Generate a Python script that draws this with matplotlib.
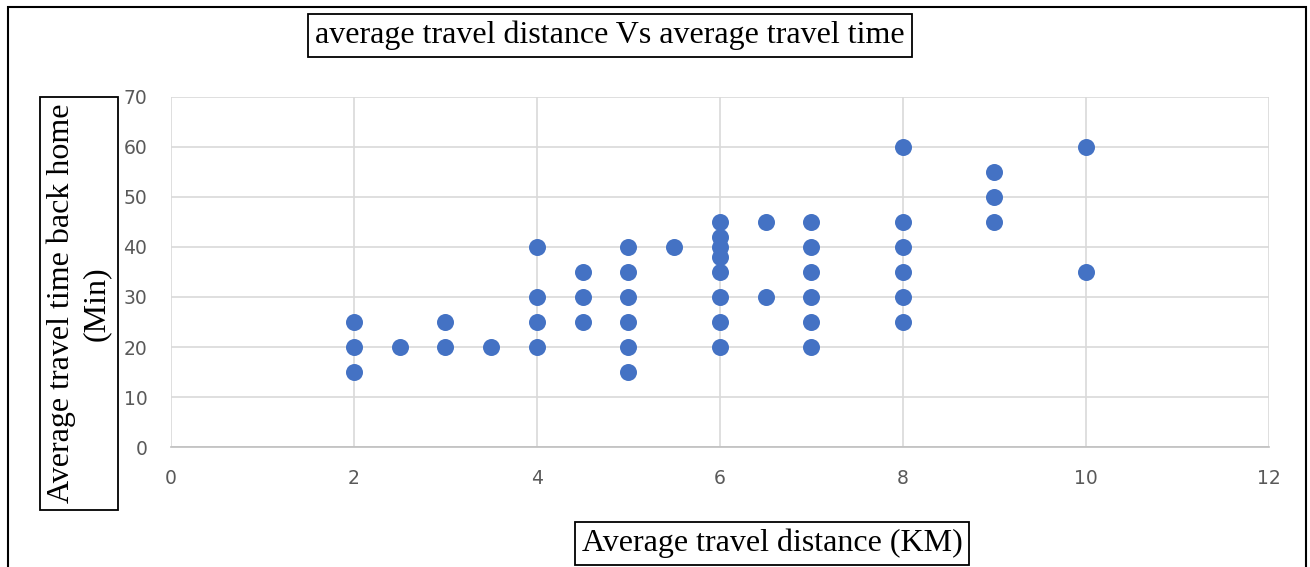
import numpy as np
import matplotlib
matplotlib.use("Agg")
import matplotlib.pyplot as plt
from matplotlib.patches import Rectangle

# average travel distance (KM) and average travel time back home (Min)
distance = [2, 2, 2,
            2.5,
            3, 3,
            3.5,
            4, 4, 4, 4,
            4.5, 4.5, 4.5,
            5, 5, 5, 5, 5, 5,
            5.5,
            6, 6, 6, 6, 6, 6, 6, 6,
            6.5, 6.5,
            7, 7, 7, 7, 7, 7,
            8, 8, 8, 8, 8, 8,
            9, 9, 9,
            10, 10]
time_min = [25, 20, 15,
            20,
            25, 20,
            20,
            40, 30, 25, 20,
            35, 30, 25,
            40, 35, 30, 25, 20, 15,
            40,
            45, 42, 40, 38, 35, 30, 25, 20,
            45, 30,
            45, 40, 35, 30, 25, 20,
            60, 45, 40, 35, 30, 25,
            55, 50, 45,
            60, 35]

x_ticks = [0, 2, 4, 6, 8, 10, 12]
y_ticks = [0, 10, 20, 30, 40, 50, 60, 70]

title = "average travel distance Vs average travel time"
x_title = "Average travel distance (KM)"
y_title = "Average travel time back home\n(Min)"


def main():
    fig = plt.figure(figsize=(13.1, 5.67), dpi=100)
    ax = fig.add_axes([0.1305, 0.2116, 0.8382, 0.6174])

    ax.scatter(distance, time_min, s=150, c='#4472C4', zorder=3, linewidths=0)

    ax.set_xlim(0, 12)
    ax.set_ylim(0, 70)
    ax.set_xticks(x_ticks)
    ax.set_yticks(y_ticks)
    ax.grid(True, color='#D9D9D9', linewidth=1.2, zorder=0)
    ax.tick_params(length=0, labelsize=13.5, labelcolor='#595959')
    ax.tick_params(axis='x', pad=16)
    ax.tick_params(axis='y', pad=17)
    for side in ['top', 'right', 'left']:
        ax.spines[side].set_visible(False)
    ax.spines['bottom'].set_color('#BFBFBF')
    ax.spines['bottom'].set_linewidth(1.2)

    box = dict(boxstyle='square,pad=0.22', fc='white', ec='black', lw=1.3)
    fig.text(0.4656, 0.9374, title, ha='center', va='center',
             fontsize=23, family='Liberation Serif', bbox=box)
    fig.text(0.0603, 0.4647, y_title, ha='center', va='center', rotation=90,
             fontsize=23, family='Liberation Serif', linespacing=1.25,
             multialignment='center', bbox=box)
    fig.text(0.5893, 0.0414, x_title, ha='center', va='center',
             fontsize=23, family='Liberation Serif', bbox=box)

    # outer frame of the chart
    fig.patches.append(Rectangle((8 / 1310, -0.05), 1298 / 1310, 1.05 - 7 / 567,
                                 transform=fig.transFigure, fill=False,
                                 ec='black', lw=1.5, clip_on=False))

    fig.savefig('out.png', dpi=100)


if __name__ == "__main__":
    main()
